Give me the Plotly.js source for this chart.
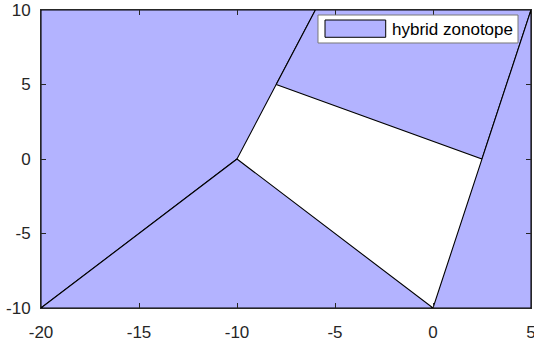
<!DOCTYPE html>
<html>
<head>
<meta charset="utf-8">
<script src="https://cdn.plot.ly/plotly-3.0.1.min.js"></script>
<style>
  body { margin: 0; padding: 0; background: #fff; }
  #plot { width: 534px; height: 343px; }
</style>
</head>
<body>
<div id="plot"></div>
<script>
// Pieces of the hybrid zonotope (clipped to the axis limits, closed)
const leftX = [-20, -10, -6, -20, -20];
const leftY = [-10, 0, 10, 10, -10];
const bottomX = [-20, 0, -10, -20];
const bottomY = [-10, -10, 0, -10];
const topX = [-8, 2.5, 5, -6, -8];
const topY = [5, 0, 10, 10, 5];
const rightX = [0, 5, 5, 0];
const rightY = [-10, -10, 10, -10];

// Axis ticks
const xTicks = [-20, -15, -10, -5, 0, 5];
const yTicks = [-10, -5, 0, 5, 10];

const fillColor = 'rgb(179,179,255)';
const axisColor = 'rgb(38,38,38)';

function piece(xs, ys) {
    return {
        x: xs,
        y: ys,
        type: 'scatter',
        mode: 'lines',
        fill: 'toself',
        fillcolor: fillColor,
        line: { color: 'black', width: 1.1 },
        showlegend: false,
        hoverinfo: 'skip'
    };
}

const traces = [
    piece(leftX, leftY),
    piece(bottomX, bottomY),
    piece(topX, topY),
    piece(rightX, rightY)
];

const axisCommon = {
    showgrid: false,
    zeroline: false,
    showline: true,
    linecolor: axisColor,
    linewidth: 1,
    mirror: 'ticks',
    ticks: 'inside',
    ticklen: 5,
    tickcolor: axisColor,
    ticklabeloverflow: 'allow',
    tickfont: { family: 'Liberation Sans, Arial, sans-serif', size: 17, color: axisColor }
};

const layout = {
    width: 534,
    height: 343,
    margin: { l: 41, r: 3, t: 10, b: 35 },
    paper_bgcolor: 'white',
    plot_bgcolor: 'white',
    showlegend: false,
    xaxis: Object.assign({}, axisCommon, {
        range: [-20, 5],
        tickvals: xTicks,
        ticktext: xTicks.map(String),
        ticklabelstandoff: 9
    }),
    yaxis: Object.assign({}, axisCommon, {
        range: [-10, 10],
        tickvals: yTicks,
        ticktext: yTicks.map(String),
        ticklabelstandoff: 6
    }),
    // legend box drawn by hand to get the wide patch symbol
    shapes: [
        {
            type: 'rect', xref: 'paper', yref: 'paper',
            x0: 0.5653, x1: 0.9735, y0: 0.8893, y1: 0.9832,
            fillcolor: 'white', line: { color: 'rgb(120,120,120)', width: 1 }
        },
        {
            type: 'rect', xref: 'paper', yref: 'paper',
            x0: 0.5796, x1: 0.7035, y0: 0.9084, y1: 0.9664,
            fillcolor: fillColor, line: { color: 'black', width: 1 }
        }
    ],
    annotations: [
        {
            xref: 'paper', yref: 'paper',
            x: 0.7122, y: 0.936,
            xanchor: 'left', yanchor: 'middle',
            showarrow: false,
            text: 'hybrid zonotope',
            font: { family: 'Liberation Sans, Arial, sans-serif', size: 17, color: 'black' }
        }
    ]
};

Plotly.newPlot('plot', traces, layout, { displayModeBar: false, staticPlot: true });
</script>
</body>
</html>
